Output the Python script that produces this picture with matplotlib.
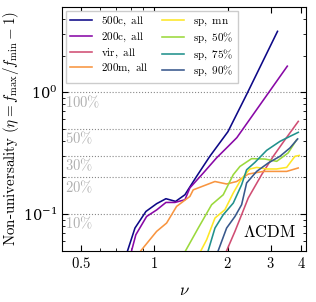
import matplotlib
matplotlib.use('Agg')
import matplotlib.pyplot as plt
from matplotlib.ticker import FixedLocator, NullFormatter, LogLocator
import numpy as np

plt.rcParams['mathtext.fontset'] = 'cm'
plt.rcParams['font.family'] = 'serif'

# --- data: nu and eta for each definition
nu_500c = [0.778, 0.834, 0.925, 1.023, 1.117, 1.224, 1.336, 1.40, 1.492, 1.69, 2.005, 2.39, 3.20]
eta_500c = [0.05, 0.0767, 0.105, 0.1216, 0.1336, 0.127, 0.144, 0.167, 0.204, 0.298, 0.475, 0.958, 3.17]

nu_200c = [0.808, 0.841, 0.931, 1.023, 1.117, 1.216, 1.336, 1.40, 1.588, 1.80, 2.01, 2.18, 3.51]
eta_200c = [0.05, 0.0676, 0.0955, 0.108, 0.1245, 0.1245, 0.131, 0.164, 0.217, 0.289, 0.36, 0.424, 1.64]

nu_vir = [1.98, 2.142, 2.353, 2.428, 2.755, 3.074, 3.434, 3.893]
eta_vir = [0.05, 0.072, 0.1155, 0.1354, 0.2105, 0.298, 0.408, 0.577]

nu_200m = [0.882, 1.023, 1.124, 1.235, 1.40, 1.445, 1.773, 1.98, 2.177, 2.43, 2.80, 3.49, 3.89]
eta_200m = [0.05, 0.072, 0.0843, 0.1155, 0.1395, 0.158, 0.185, 0.1765, 0.185, 0.213, 0.224, 0.224, 0.239]

nu_spmn = [1.554, 1.64, 1.774, 1.949, 2.108, 2.245, 2.353, 2.467, 2.629, 2.888, 3.175, 3.488, 3.772, 3.929]
eta_spmn = [0.05, 0.0615, 0.0927, 0.1085, 0.149, 0.1854, 0.2105, 0.2345, 0.2416, 0.2345, 0.2345, 0.2416, 0.298, 0.303]

nu_sp50 = [1.345, 1.515, 1.719, 1.918, 2.108, 2.245, 2.506, 2.843, 3.175, 3.54, 3.833]
eta_sp50 = [0.05, 0.0767, 0.1193, 0.144, 0.2105, 0.246, 0.285, 0.283, 0.271, 0.318, 0.408]

nu_sp75 = [1.664, 1.774, 1.918, 2.108, 2.281, 2.391, 2.586, 2.888, 3.275, 3.598, 3.893]
eta_sp75 = [0.05, 0.0767, 0.0987, 0.123, 0.174, 0.231, 0.2657, 0.3334, 0.3954, 0.4345, 0.469]

nu_sp90 = [1.829, 1.98, 2.142, 2.281, 2.391, 2.629, 2.933, 3.275, 3.598, 3.87]
eta_sp90 = [0.05, 0.0767, 0.0955, 0.1193, 0.18, 0.224, 0.2627, 0.298, 0.349, 0.414]

labels = ['500c, all', '200c, all', 'vir, all', '200m, all',
          'sp, mn', 'sp, 50%', 'sp, 75%', 'sp, 90%']
levels = [1.0, 0.5, 0.3, 0.2, 0.1]
level_labels = ['100%', '50%', '30%', '20%', '10%']

xtick_vals = [0.5, 1, 2, 3, 4]

plasma = plt.get_cmap('plasma')
viridis = plt.get_cmap('viridis')
colors = [plasma(0.0), plasma(0.28), plasma(0.52), plasma(0.75),
          viridis(1.0), viridis(0.85), viridis(0.5), viridis(0.27)]

series = [(nu_500c, eta_500c), (nu_200c, eta_200c), (nu_vir, eta_vir), (nu_200m, eta_200m),
          (nu_spmn, eta_spmn), (nu_sp50, eta_sp50), (nu_sp75, eta_sp75), (nu_sp90, eta_sp90)]

fig = plt.figure(figsize=(3.16, 3.02), dpi=100)
ax = fig.add_axes([0.197, 0.170, 0.770, 0.806])

for lev, lab in zip(levels, level_labels):
    ax.axhline(lev, color='#888888', ls=':', lw=0.8, zorder=1)
    ax.text(0.432, lev * 0.975, r'$' + lab.replace('%', r'\%') + '$', color='#b0b0b0',
            fontsize=10.5, ha='left', va='top', zorder=1)

for (x, y), c, lab in zip(series, colors, labels):
    ax.plot(x, y, color=c, lw=1.15, zorder=3,
            label=r'$\mathrm{' + lab.replace(' ', r'\ ').replace('%', r'\%') + '}$')

ax.set_xscale('log')
ax.set_yscale('log')
ax.set_xlim(0.42, 4.17)
ax.set_ylim(0.05, 5.0)

ax.xaxis.set_major_locator(FixedLocator(xtick_vals))
ax.set_xticklabels([r'$%g$' % v for v in xtick_vals])
ax.xaxis.set_minor_locator(LogLocator(base=10, subs=np.arange(1, 10)))
ax.xaxis.set_minor_formatter(NullFormatter())
ax.yaxis.set_minor_locator(LogLocator(base=10, subs=np.arange(2, 10)))
ax.yaxis.set_minor_formatter(NullFormatter())
ax.tick_params(which='both', direction='in', top=True, right=True, labelsize=10.5)
ax.tick_params(which='major', length=4)
ax.tick_params(which='minor', length=2.5)

ax.set_xlabel(r'$\nu$', fontsize=12, labelpad=8)
ax.set_ylabel(r'$\mathrm{Non\text{-}universality}\ (\eta = f_{\rm max}/f_{\rm min} - 1)$',
              fontsize=10.8)
ax.yaxis.set_label_coords(-0.17, 0.5)

ax.text(0.959, 0.074, r'$\Lambda\mathrm{CDM}$', transform=ax.transAxes, fontsize=12,
        ha='right', va='center')

leg = ax.legend(loc='upper left', ncol=2, fontsize=8, frameon=True, fancybox=False,
                framealpha=1, edgecolor='#cccccc', borderaxespad=0.3, handlelength=2.0,
                labelspacing=0.2, columnspacing=1.2)

fig.savefig('out.png', dpi=100)
